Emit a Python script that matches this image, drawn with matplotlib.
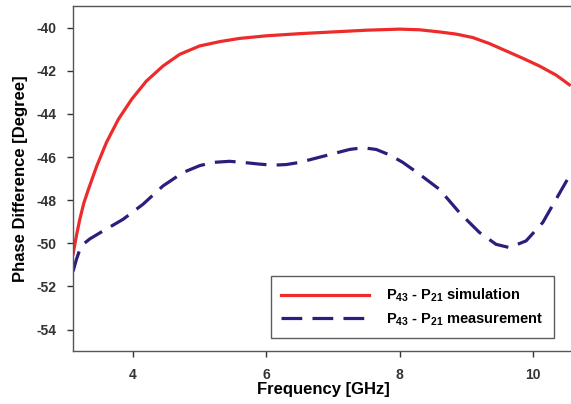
import matplotlib
matplotlib.use("Agg")
import matplotlib.pyplot as plt

plt.rcParams['font.family'] = ['Liberation Sans', 'DejaVu Sans']
plt.rcParams['font.weight'] = 'bold'
plt.rcParams['mathtext.default'] = 'regular'
plt.rcParams['axes.unicode_minus'] = False

# frequency [GHz] and phase difference [deg]
sim_freq = [3.1, 3.15, 3.2, 3.26, 3.33, 3.455, 3.6, 3.78, 3.98, 4.2, 4.45,
            4.7, 5.0, 5.3, 5.6, 6.0, 6.5, 7.0, 7.5, 8.0, 8.3, 8.6, 8.85, 9.1,
            9.35, 9.6, 9.85, 10.1, 10.35, 10.55]
sim_phase = [-50.5, -49.65, -48.9, -48.15, -47.5, -46.42, -45.33, -44.25,
             -43.32, -42.48, -41.78, -41.24, -40.85, -40.65, -40.5, -40.38,
             -40.28, -40.2, -40.12, -40.07, -40.1, -40.2, -40.3, -40.46,
             -40.74, -41.08, -41.42, -41.78, -42.2, -42.65]

meas_freq = [3.1, 3.15, 3.2, 3.27, 3.35, 3.55, 3.85, 4.15, 4.45, 4.75, 5.0,
             5.2, 5.45, 5.65, 5.9, 6.1, 6.3, 6.5, 6.75, 7.0, 7.25, 7.45, 7.65,
             7.85, 8.05, 8.3, 8.6, 8.9, 9.2, 9.45, 9.65, 9.9, 10.15, 10.35,
             10.55]
meas_phase = [-51.3, -50.75, -50.3, -50.0, -49.8, -49.43, -48.89, -48.19,
              -47.34, -46.72, -46.4, -46.25, -46.2, -46.25, -46.33, -46.38,
              -46.35, -46.25, -46.05, -45.85, -45.65, -45.57, -45.65, -45.9,
              -46.25, -46.8, -47.5, -48.58, -49.5, -50.05, -50.2, -49.89,
              -49.04, -47.96, -46.88]

x_ticks = [4, 6, 8, 10]
y_ticks = [-40, -42, -44, -46, -48, -50, -52, -54]

fig = plt.figure(figsize=(5.71, 4.04), dpi=100)
ax = fig.add_axes([0.128, 0.131, 0.875, 0.854])

ax.plot(sim_freq, sim_phase, color='#ee2b2b', lw=2.3,
        label=r'P$_{43}$ - P$_{21}$ simulation')
ax.plot(meas_freq, meas_phase, color='#2e1d7c', lw=2.3, dashes=(6.5, 3.2),
        label=r'P$_{43}$ - P$_{21}$ measurement')

ax.set_xlim(3.1, 10.6)
ax.set_ylim(-55, -39)
ax.set_xticks(x_ticks)
ax.set_yticks(y_ticks)
ax.tick_params(direction='out', length=4, width=1, labelsize=10,
               colors='#333333', pad=8)
for s in ax.spines.values():
    s.set_color('#555555')
    s.set_linewidth(1.0)

ax.set_xlabel('Frequency [GHz]', fontsize=12, fontweight='bold', labelpad=0)
ax.set_ylabel('Phase Difference [Degree]', fontsize=12, fontweight='bold', labelpad=6)

leg = ax.legend(loc='lower right', bbox_to_anchor=(0.962, 0.038), fontsize=10.5,
                frameon=True, fancybox=False, handlelength=6.0, borderpad=0.7,
                labelspacing=0.5, handletextpad=1.2, borderaxespad=0)
leg.get_frame().set_edgecolor('#333333')
leg.get_frame().set_linewidth(1.0)

fig.savefig('out.png', dpi=100)
